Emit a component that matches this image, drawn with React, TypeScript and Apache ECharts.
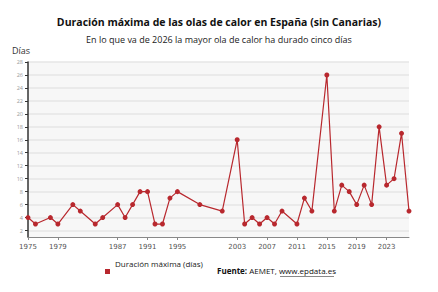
import React, { useEffect, useRef } from "react";
import * as echarts from "echarts";

const years = [1975, 1976, 1978, 1979, 1981, 1982, 1984, 1985, 1987, 1988, 1989, 1990, 1991, 1992, 1993, 1994, 1995, 1998, 2001, 2003, 2004, 2005, 2006, 2007, 2008, 2009, 2011, 2012, 2013, 2015, 2016, 2017, 2018, 2019, 2020, 2021, 2022, 2023, 2024, 2025, 2026];
const days = [4, 3, 4, 3, 6, 5, 3, 4, 6, 4, 6, 8, 8, 3, 3, 7, 8, 6, 5, 16, 3, 4, 3, 4, 3, 5, 3, 7, 5, 26, 5, 9, 8, 6, 9, 6, 18, 9, 10, 17, 5];
const xTickLabels = [1975, 1979, 1987, 1991, 1995, 2003, 2007, 2011, 2015, 2019, 2023];
const yTickLabels = [2, 4, 6, 8, 10, 12, 14, 16, 18, 20, 22, 24, 26, 28];

const TITLE = "Duración máxima de las olas de calor en España (sin Canarias)";
const SUBTITLE = "En lo que va de 2026 la mayor ola de calor ha durado cinco días";
const SERIES_NAME = "Duración máxima (días)";
const FONT = "'Open Sans', 'Noto Sans', sans-serif";
const RED = "#b8282e";

export default function App() {
  const ref = useRef<HTMLDivElement>(null);
  useEffect(() => {
    if (!ref.current) return;
    const chart = echarts.init(ref.current, undefined, { renderer: "svg" });
    chart.setOption({
      animation: false,
      backgroundColor: "#ffffff",
      textStyle: { fontFamily: FONT },
      title: [
        {
          text: TITLE,
          left: "center",
          top: 11,
          textStyle: { fontSize: 10.5, fontWeight: "bold", color: "#111", fontFamily: FONT },
        },
        {
          text: SUBTITLE,
          left: "center",
          top: 30,
          textStyle: { fontSize: 9, fontWeight: "normal", color: "#222", fontFamily: FONT },
        },
      ],
      legend: {
        data: [SERIES_NAME],
        left: 100,
        top: 254,
        icon: "rect",
        itemWidth: 5,
        itemHeight: 5,
        itemGap: 3,
        formatter: "{a|{name}}",
        textStyle: {
          fontSize: 8,
          color: "#222",
          fontFamily: FONT,
          rich: { a: { fontSize: 8, color: "#222", fontFamily: FONT, padding: [0, 0, 17, 0] } },
        },
      },
      grid: { left: 28, right: 29, top: 62, bottom: 55, backgroundColor: "#f7f7f7", show: true, borderWidth: 0 },
      xAxis: {
        type: "value",
        min: 1975,
        max: 2026,
        axisLine: { show: true, lineStyle: { color: "#888", width: 1 } },
        axisTick: { show: true, length: 3, customValues: xTickLabels, lineStyle: { color: "#888" } },
        axisLabel: {
          customValues: xTickLabels,
          fontSize: 7,
          color: "#555",
          margin: 6,
          fontFamily: "'DejaVu Sans', sans-serif",
          formatter: (v: number) => String(v),
        },
        splitLine: { show: false },
      },
      yAxis: {
        type: "value",
        name: "Días",
        nameLocation: "end",
        nameGap: 7,
        nameTextStyle: { fontSize: 9, color: "#333", align: "left", padding: [0, 0, 0, -16], fontFamily: FONT },
        min: 1,
        max: 28,
        axisLine: { show: true, lineStyle: { color: "#333", width: 1.5 } },
        axisTick: { show: true, length: 3, customValues: yTickLabels, lineStyle: { color: "#333" } },
        axisLabel: {
          customValues: yTickLabels,
          fontSize: 5.5,
          color: "#999",
          margin: 5,
        },
        splitLine: { show: true, lineStyle: { color: "#e6e6e6", width: 1.5 } },
      },
      series: [
        {
          name: SERIES_NAME,
          type: "line",
          data: years.map((y, i) => [y, days[i]]),
          symbol: "circle",
          symbolSize: 5,
          itemStyle: { color: RED },
          lineStyle: { color: RED, width: 1.2 },
        },
      ],
      graphic: [
        {
          type: "text",
          left: 217,
          top: 266,
          style: {
            text: "{b|Fuente:} AEMET, www.epdata.es",
            fontSize: 8,
            fill: "#111",
            fontFamily: FONT,
            rich: {
              b: { fontWeight: "bold", fontSize: 8, fill: "#111", fontFamily: FONT },
            },
          },
        },
        {
          type: "line",
          shape: { x1: 280, y1: 276.5, x2: 334, y2: 276.5 },
          style: { stroke: "#555", lineWidth: 0.7 },
        },
      ],
    });
    return () => chart.dispose();
  }, []);
  return <div ref={ref} style={{ position: "fixed", left: 0, top: 0, width: 438, height: 292 }} />;
}
